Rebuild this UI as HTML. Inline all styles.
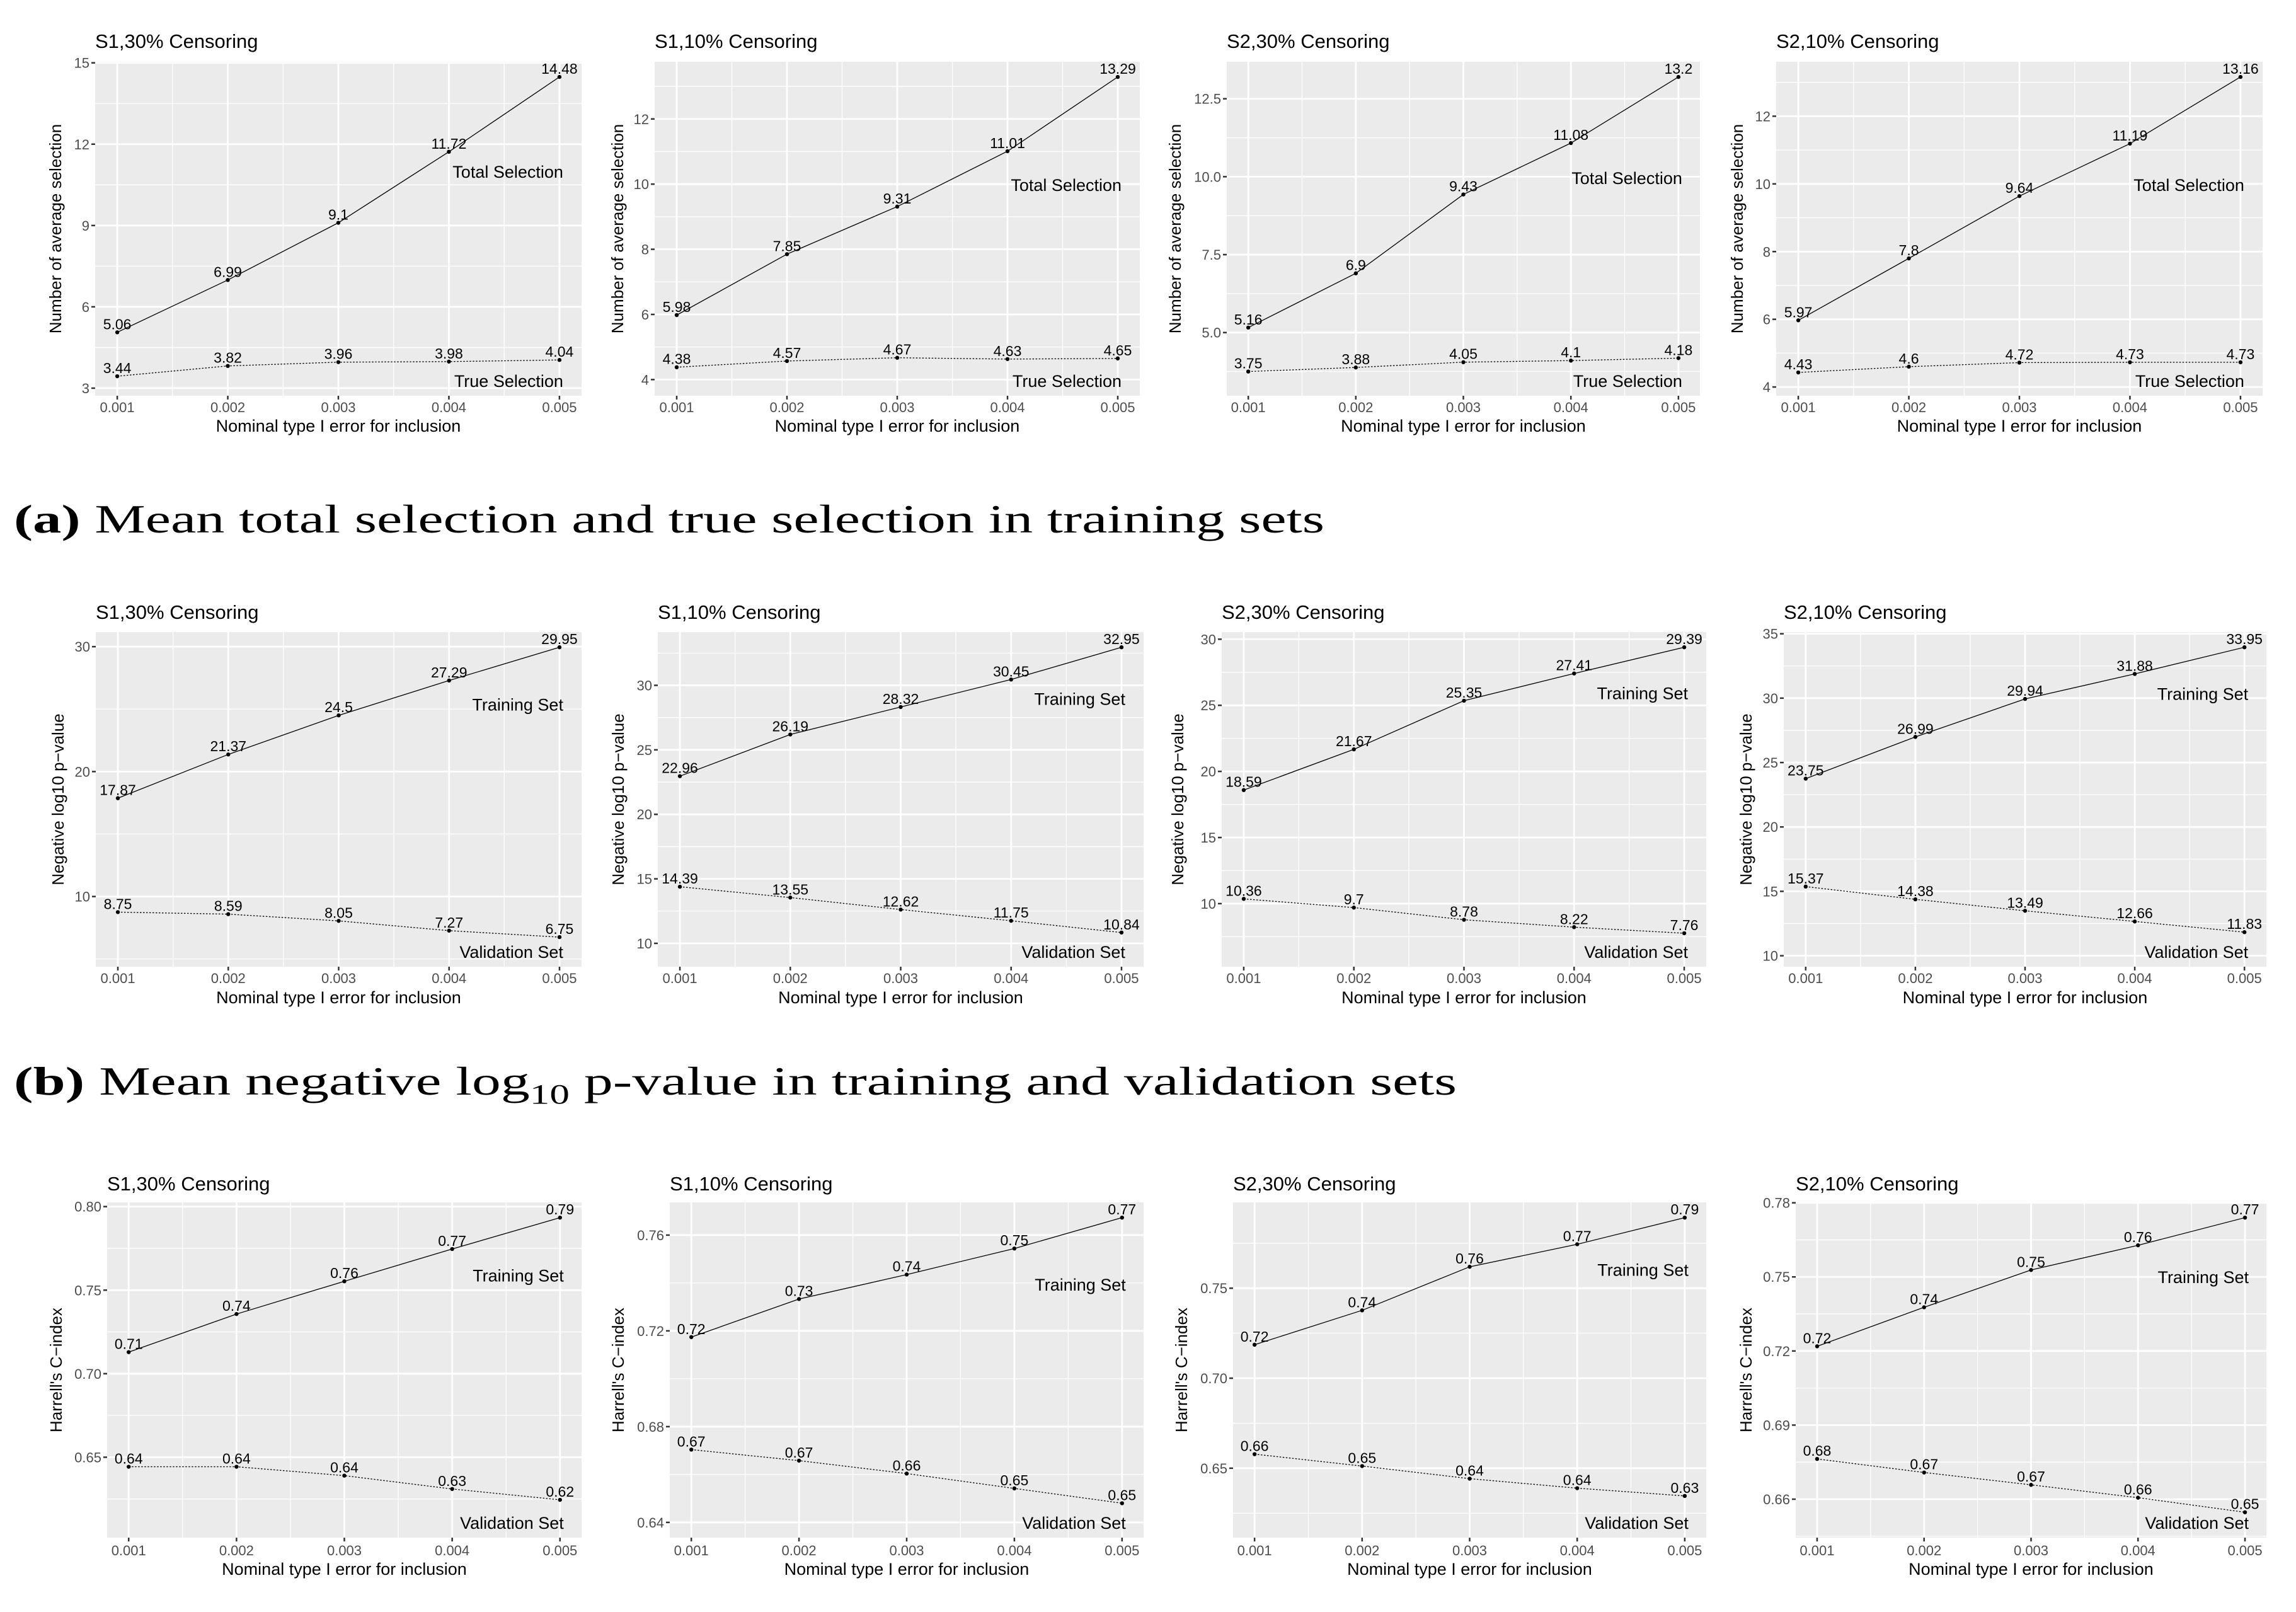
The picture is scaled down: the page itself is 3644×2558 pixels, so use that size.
<!DOCTYPE html>
<html><head><meta charset="utf-8">
<style>
html,body{margin:0;padding:0;background:#fff;}
svg{display:block;}
text{font-family:"Liberation Sans",sans-serif;}
.cap{font-family:"Liberation Serif",serif;}
</style></head>
<body>
<svg id="fig" xmlns="http://www.w3.org/2000/svg" width="3644" height="2558" viewBox="0 0 3644 2558">
<rect x="0" y="0" width="3644" height="2558" fill="#fff"/>
<text class="cap" x="22" y="845" font-size="64" textLength="2080" lengthAdjust="spacingAndGlyphs"><tspan font-weight="bold">(a)</tspan> Mean total selection and true selection in training sets</text>
<text class="cap" x="22" y="1737" font-size="64" textLength="2290" lengthAdjust="spacingAndGlyphs"><tspan font-weight="bold">(b)</tspan> Mean negative log<tspan font-size="44" dy="14">10</tspan><tspan dy="-14"> p-value in training and validation sets</tspan></text>
</svg>
<script>
// ---- shared x data ----
const xVals = [0.001, 0.002, 0.003, 0.004, 0.005];
const xTickLabels = ["0.001", "0.002", "0.003", "0.004", "0.005"];
const panelTitles = ["S1,30% Censoring", "S1,10% Censoring", "S2,30% Censoring", "S2,10% Censoring"];

// ---- row a: selection ----
const a1Total = [5.06, 6.99, 9.1, 11.72, 14.48];
const a1True  = [3.44, 3.82, 3.96, 3.98, 4.04];
const a2Total = [5.98, 7.85, 9.31, 11.01, 13.29];
const a2True  = [4.38, 4.57, 4.67, 4.63, 4.65];
const a3Total = [5.16, 6.9, 9.43, 11.08, 13.2];
const a3True  = [3.75, 3.88, 4.05, 4.1, 4.18];
const a4Total = [5.97, 7.8, 9.64, 11.19, 13.16];
const a4True  = [4.43, 4.6, 4.72, 4.73, 4.73];
const aTopLabelY = [10.99, 9.98, 9.97, 9.98];
const aBotLabelY = [3.28, 3.97, 3.46, 4.19];
const a1Ticks = [3, 6, 9, 12, 15];
const a2Ticks = [4, 6, 8, 10, 12];
const a3Ticks = [5, 7.5, 10, 12.5];
const a3TickLabels = ["5.0", "7.5", "10.0", "12.5"];
const a4Ticks = [4, 6, 8, 10, 12];

// ---- row b: -log10 p ----
const b1Train = [17.87, 21.37, 24.5, 27.29, 29.95];
const b1Valid = [8.75, 8.59, 8.05, 7.27, 6.75];
const b2Train = [22.96, 26.19, 28.32, 30.45, 32.95];
const b2Valid = [14.39, 13.55, 12.62, 11.75, 10.84];
const b3Train = [18.59, 21.67, 25.35, 27.41, 29.39];
const b3Valid = [10.36, 9.7, 8.78, 8.22, 7.76];
const b4Train = [23.75, 26.99, 29.94, 31.88, 33.95];
const b4Valid = [15.37, 14.38, 13.49, 12.66, 11.83];
const bTopLabelY = [25.39, 28.98, 25.95, 30.36];
const bBotLabelY = [5.6, 9.37, 6.38, 10.33];
const b1Ticks = [10, 20, 30];
const b2Ticks = [10, 15, 20, 25, 30];
const b3Ticks = [10, 15, 20, 25, 30];
const b4Ticks = [10, 15, 20, 25, 30, 35];

// ---- row c: C-index ----
const c1Train = [0.7129, 0.7357, 0.7553, 0.7746, 0.7934];
const c1Valid = [0.6443, 0.6443, 0.6390, 0.6310, 0.6245];
const c2Train = [0.7174, 0.7333, 0.7435, 0.7544, 0.7673];
const c2Valid = [0.6704, 0.6658, 0.6604, 0.6542, 0.6480];
const c3Train = [0.7186, 0.7377, 0.7619, 0.7744, 0.7892];
const c3Valid = [0.6578, 0.6512, 0.6442, 0.6389, 0.6346];
const c4Train = [0.7219, 0.7377, 0.7528, 0.7628, 0.7740];
const c4Valid = [0.6763, 0.6708, 0.6658, 0.6606, 0.6547];
const cTopLabelY = [0.759, 0.7395, 0.7604, 0.7501];
const cBotLabelY = [0.611, 0.64, 0.6199, 0.6506];
const c1Ticks = [0.65, 0.70, 0.75, 0.80];
const c2Ticks = [0.64, 0.68, 0.72, 0.76];
const c3Ticks = [0.65, 0.70, 0.75];
const c4Ticks = [0.66, 0.69, 0.72, 0.75, 0.78];

const NS = "http://www.w3.org/2000/svg";
const svg = document.getElementById('fig');
function mk(tag, attrs, parent) {
  const e = document.createElementNS(NS, tag);
  for (const k in attrs) e.setAttribute(k, attrs[k]);
  (parent || svg).appendChild(e);
  return e;
}

const rowLayout = [
  {top: 98, bottom: 628, lefts: [151, 1039, 1947, 2819], rights: [923, 1809, 2698, 3591], ytitleX: [88, 980, 1865, 2757], titleDy: 22, xtickY: 646, xtitleY: 676},
  {top: 1003, bottom: 1534, lefts: [152, 1044, 1939, 2831], rights: [923, 1815, 2708, 3597], ytitleX: [92, 981, 1869, 2771], titleDy: 21, xtickY: 1552, xtitleY: 1583},
  {top: 1908, bottom: 2440, lefts: [170, 1063, 1957, 2850], rights: [923, 1815, 2708, 3597], ytitleX: [89, 981, 1875, 2771], titleDy: 19, xtickY: 2460, xtitleY: 2490}
];

const rows = [
  {key: 'a', ytitle: 'Number of average selection', topName: 'Total Selection', botName: 'True Selection',
   top: [a1Total, a2Total, a3Total, a4Total], bot: [a1True, a2True, a3True, a4True],
   topLab: aTopLabelY, botLab: aBotLabelY, ticks: [a1Ticks, a2Ticks, a3Ticks, a4Ticks],
   tickLabels: [null, null, a3TickLabels, null], fmt: v => String(v), tfmt: v => String(v)},
  {key: 'b', ytitle: 'Negative log10 p\u2212value', topName: 'Training Set', botName: 'Validation Set',
   top: [b1Train, b2Train, b3Train, b4Train], bot: [b1Valid, b2Valid, b3Valid, b4Valid],
   topLab: bTopLabelY, botLab: bBotLabelY, ticks: [b1Ticks, b2Ticks, b3Ticks, b4Ticks],
   tickLabels: [null, null, null, null], fmt: v => String(v), tfmt: v => String(v)},
  {key: 'c', ytitle: "Harrell's C\u2212index", topName: 'Training Set', botName: 'Validation Set',
   top: [c1Train, c2Train, c3Train, c4Train], bot: [c1Valid, c2Valid, c3Valid, c4Valid],
   topLab: cTopLabelY, botLab: cBotLabelY, ticks: [c1Ticks, c2Ticks, c3Ticks, c4Ticks],
   tickLabels: [null, null, null, null], fmt: v => v.toFixed(2), tfmt: v => v.toFixed(2)}
];

rows.forEach((row, ri) => {
  const L = rowLayout[ri];
  for (let p = 0; p < 4; p++) {
    const g = mk('g', {});
    
    
    const x0 = L.lefts[p], x1 = L.rights[p], y0 = L.top, y1 = L.bottom;
    const topS = row.top[p], botS = row.bot[p];
    const all = topS.concat(botS, [row.topLab[p], row.botLab[p]]);
    let mn = Math.min(...all), mx = Math.max(...all);
    const r = mx - mn; mn -= 0.05 * r; mx += 0.05 * r;
    const xmin = xVals[0], xmax = xVals[xVals.length - 1], xr = xmax - xmin;
    const xs = v => x0 + (v - (xmin - 0.05 * xr)) / (1.1 * xr) * (x1 - x0);
    const ys = v => y1 - (v - mn) / (mx - mn) * (y1 - y0);

    const bg = mk('rect', {x: x0, y: y0, width: x1 - x0, height: y1 - y0, fill: '#EBEBEB'}, g);
    
    

    const ticks = row.ticks[p];
    const step = ticks[1] - ticks[0];
    for (let t = ticks[0] - step / 2; t <= mx + 1e-9; t += step) {
      if (t < mn) continue;
      const l = mk('line', {x1: x0, x2: x1, y1: ys(t), y2: ys(t), stroke: '#fff', 'stroke-width': 1.3}, g);
      
      
    }
    for (let i = 0; i < xVals.length - 1; i++) {
      const xv = (xVals[i] + xVals[i + 1]) / 2;
      const l = mk('line', {x1: xs(xv), x2: xs(xv), y1: y0, y2: y1, stroke: '#fff', 'stroke-width': 1.3}, g);
      
      
    }
    ticks.forEach((t, ti) => {
      const yy = ys(t);
      const l = mk('line', {x1: x0, x2: x1, y1: yy, y2: yy, stroke: '#fff', 'stroke-width': 2.8}, g);
      
      
      const tm = mk('line', {x1: x0 - 6, x2: x0, y1: yy, y2: yy, stroke: '#333', 'stroke-width': 2.5}, g);
      
      
      const lab = row.tickLabels[p] ? row.tickLabels[p][ti] : row.tfmt(t);
      const tx = mk('text', {x: x0 - 9, y: yy + 8, 'font-size': 22, fill: '#4D4D4D', 'text-anchor': 'end'}, g);
      
      
      tx.textContent = lab;
    });
    xVals.forEach((v, i) => {
      const xx = xs(v);
      const l = mk('line', {x1: xx, x2: xx, y1: y0, y2: y1, stroke: '#fff', 'stroke-width': 2.8}, g);
      
      
      const tm = mk('line', {x1: xx, x2: xx, y1: y1, y2: y1 + 6, stroke: '#333', 'stroke-width': 2.5}, g);
      
      
      const tx = mk('text', {x: xx, y: L.xtickY + 8, 'font-size': 22, fill: '#4D4D4D', 'text-anchor': 'middle'}, g);
      
      
      tx.textContent = xTickLabels[i];
    });
    [[topS, 'none', 'top'], [botS, '2.5,2.5', 'bottom']].forEach(([s, dash, nm]) => {
      const pts = s.map((v, i) => xs(xVals[i]).toFixed(1) + ',' + ys(v).toFixed(1)).join(' ');
      const pl = mk('polyline', {points: pts, fill: 'none', stroke: '#000', 'stroke-width': 1.3, 'stroke-dasharray': dash}, g);
      
      
      s.forEach((v, i) => {
        const c = mk('circle', {cx: xs(xVals[i]), cy: ys(v), r: 3.2, fill: '#000'}, g);
        
        
        const t = mk('text', {x: xs(xVals[i]), y: ys(v) - 5, 'font-size': 23, fill: '#000', 'text-anchor': 'middle'}, g);
        
        
        t.textContent = row.fmt(v);
      });
    });
    const tl = mk('text', {x: xs(xmax) + 6, y: ys(row.topLab[p]) + 10, 'font-size': 27, fill: '#000', 'text-anchor': 'end'}, g);
    
    
    tl.textContent = row.topName;
    const bl = mk('text', {x: xs(xmax) + 6, y: ys(row.botLab[p]) + 10, 'font-size': 27, fill: '#000', 'text-anchor': 'end'}, g);
    
    
    bl.textContent = row.botName;
    const pt = mk('text', {x: x0, y: y0 - L.titleDy, 'font-size': 31, fill: '#000'}, g);
    
    
    pt.textContent = panelTitles[p];
    const xt = mk('text', {x: (x0 + x1) / 2, y: L.xtitleY + 9, 'font-size': 27, fill: '#000', 'text-anchor': 'middle'}, g);
    
    
    xt.textContent = 'Nominal type I error for inclusion';
    const yc = (y0 + y1) / 2, yx = L.ytitleX[p];
    const yt = mk('text', {x: yx, y: yc, 'font-size': 26, fill: '#000', 'text-anchor': 'middle', transform: 'rotate(-90 ' + yx + ' ' + yc + ') translate(0 9)'}, g);
    
    
    yt.textContent = row.ytitle;
  }
});
</script>
</body></html>
